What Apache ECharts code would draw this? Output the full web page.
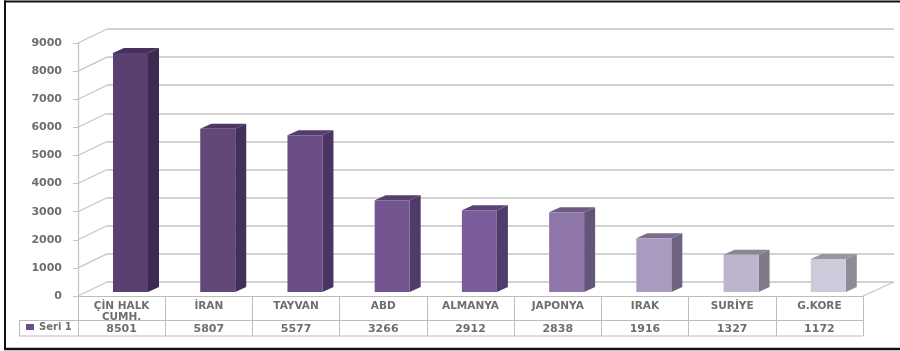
<!DOCTYPE html>
<html><head><meta charset="utf-8">
<style>html,body{margin:0;padding:0;background:#fff}#c{width:900px;height:351px}</style>
<script src="https://cdn.jsdelivr.net/npm/echarts@6/dist/echarts.min.js"></script>
</head><body><div id="c"></div>
<script>
const categories = ['ÇİN HALK\nCUMH.','İRAN','TAYVAN','ABD','ALMANYA','JAPONYA','IRAK','SURİYE','G.KORE'];
const values = [8501,5807,5577,3266,2912,2838,1916,1327,1172];
const yTicks = [0,1000,2000,3000,4000,5000,6000,7000,8000,9000];
const seriesName = 'Seri 1';
const frontColors = ['#5a4070','#624878','#6a4e85','#72558f','#7a5c9a','#8e77a8','#a99bbf','#bdb4ce','#cfcadb'];
const sideColors  = ['#3c2b50','#41305a','#493462','#4f3a68','#503b6c','#64557a','#6f6480','#7e7a88','#8e8a96'];
const topColors   = ['#46315c','#4c3764','#533c6c','#583f72','#5a4376','#6c5c82','#7a6e8c','#8a8494','#9a96a2'];
const FONT = '"DejaVu Sans"', TXT = '#6e6e6e', GRID = '#c4c4c4', TABLE = '#bdbdbd';
const DX = 29, DY = 14, BAR_W = 35, BAR_DX = 11, BAR_DY = 5, SHIFT_X = 8.9, SHIFT_Y = 4;

function renderBar(params, api) {
  const i = api.value(0), v = api.value(1);
  const p = api.coord([i, v]), b = api.coord([i, 0]);
  const x0 = p[0] + SHIFT_X - BAR_W / 2, x1 = x0 + BAR_W;
  const top = p[1] - SHIFT_Y, bot = b[1] - SHIFT_Y;
  return { type: 'group', children: [
    { type: 'polygon', shape: { points: [[x1,bot],[x1+BAR_DX,bot-BAR_DY],[x1+BAR_DX,top-BAR_DY],[x1,top]] }, style: { fill: sideColors[i] } },
    { type: 'polygon', shape: { points: [[x0,top],[x0+BAR_DX,top-BAR_DY],[x1+BAR_DX,top-BAR_DY],[x1,top]] }, style: { fill: topColors[i] } },
    { type: 'rect', shape: { x: x0, y: top, width: BAR_W, height: bot - top }, style: { fill: frontColors[i] } }
  ]};
}
function renderDiag(params, api) {
  const p = api.coord([0, api.value(0)]);
  const x = params.coordSys.x;
  return { type: 'line', shape: { x1: x, y1: p[1], x2: x + DX, y2: p[1] - DY }, style: { stroke: GRID, lineWidth: 1.2 } };
}
function hline(x1, x2, y, c, w) { return { type: 'line', silent: true, shape: { x1, y1: y, x2, y2: y }, style: { stroke: c, lineWidth: w } }; }
function vline(x, y1, y2, c, w) { return { type: 'line', silent: true, shape: { x1: x, y1, x2: x, y2 }, style: { stroke: c, lineWidth: w } }; }

const chart = echarts.init(document.getElementById('c'), null, { renderer: 'canvas' });
chart.setOption({
  animation: false,
  backgroundColor: '#fff',
  legend: { left: 26, top: 322, itemWidth: 8, itemHeight: 6, itemGap: 0, icon: 'rect', padding: 0,
    data: [seriesName], selectedMode: false,
    textStyle: { fontFamily: FONT, fontSize: 10, fontWeight: 'bold', color: TXT, padding: [0,0,0,0] } },
  grid: [
    { left: 78, right: 37, top: 43, bottom: 55 },
    { left: 107, right: 6, top: 29, bottom: 69 }
  ],
  xAxis: [
    { type: 'category', gridIndex: 0, data: categories,
      axisLine: { lineStyle: { color: TABLE, width: 1.2 } },
      axisTick: { show: true, length: 40, lineStyle: { color: TABLE } },
      axisLabel: { interval: 0, margin: 5, fontFamily: FONT, fontSize: 10.5, fontWeight: 'bold', color: TXT, lineHeight: 11 } },
    { type: 'category', gridIndex: 0, position: 'bottom', offset: 24, data: values.map(String),
      axisLine: { show: false }, axisTick: { show: false },
      axisLabel: { interval: 0, margin: 4, fontFamily: FONT, fontSize: 11, fontWeight: 'bold', color: TXT } },
    { type: 'category', gridIndex: 1, data: categories, show: false }
  ],
  yAxis: [
    { type: 'value', gridIndex: 0, min: 0, max: 9000, interval: 1000,
      axisLine: { show: true, lineStyle: { color: GRID, width: 1.2 } },
      axisTick: { show: true, length: 5, lineStyle: { color: GRID } },
      splitLine: { show: false },
      axisLabel: { margin: 16, fontFamily: FONT, fontSize: 11, fontWeight: 'bold', color: TXT, formatter: v => String(v) } },
    { type: 'value', gridIndex: 1, min: 0, max: 9000, interval: 1000,
      axisLine: { show: false }, axisTick: { show: false }, axisLabel: { show: false },
      splitLine: { show: true, lineStyle: { color: GRID, width: 1.5 } } }
  ],
  series: [
    { type: 'custom', name: 'diag', xAxisIndex: 0, yAxisIndex: 0, data: yTicks.map(v => [v]), renderItem: renderDiag, encode: { y: 0 }, silent: true, clip: false, z: 1, tooltip: { show: false } },
    { type: 'custom', name: seriesName, xAxisIndex: 0, yAxisIndex: 0, data: values.map((v, i) => [i, v]), renderItem: renderBar, encode: { x: 0, y: 1 }, clip: false, z: 3, itemStyle: { color: '#6b4f8c' } }
  ],
  graphic: { elements: [
    hline(19, 863, 320.5, TABLE, 1),
    hline(19, 863, 336, TABLE, 1),
    vline(19.5, 320.5, 336, TABLE, 1),
    vline(78.5, 296, 336, TABLE, 1),
    { type: 'line', silent: true, shape: { x1: 863, y1: 296, x2: 894, y2: 282 }, style: { stroke: GRID, lineWidth: 1.2 } },
    hline(4, 900, 1.5, '#111', 2),
    vline(5, 0.5, 350, '#111', 2),
    hline(4, 900, 349, '#111', 2.5)
  ] }
});
</script></body></html>
